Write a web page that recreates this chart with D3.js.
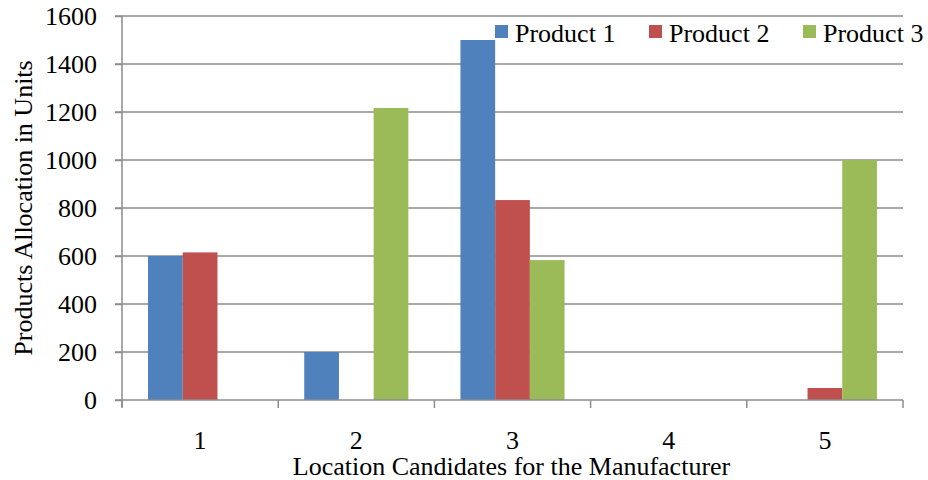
<!DOCTYPE html>
<html>
<head>
<meta charset="utf-8">
<script src="https://cdn.jsdelivr.net/npm/d3@7"></script>
<style>
  html, body { margin: 0; padding: 0; background: #fff; }
  svg text { font-family: "Liberation Serif", "Times New Roman", Times, serif !important; }
</style>
</head>
<body>
<svg id="chart" width="928" height="480"></svg>
<script>
// Units allocated to each candidate location, per product
const locations = ["1", "2", "3", "4", "5"];
const products = ["Product 1", "Product 2", "Product 3"];
const product1 = [600, 200, 1500, 0, 0];
const product2 = [615, 0, 833, 0, 50];
const product3 = [0, 1217, 583, 0, 1000];
const yTicks = [0, 200, 400, 600, 800, 1000, 1200, 1400, 1600];
const colors = ["#4F81BD", "#C0504D", "#9BBB59"];

const series = [product1, product2, product3];

const svg = d3.select("#chart");
const margin = { left: 122, right: 25, top: 16, bottom: 80 };
const W = 928, H = 480;
const plotW = W - margin.left - margin.right;
const plotH = H - margin.top - margin.bottom;
const fs = 26;

const g = svg.append("g").attr("transform", `translate(${margin.left},${margin.top})`);

const x = d3.scaleBand().domain(locations).range([0, plotW]).padding(0);
// gap width 150% of a bar on either side of each group
const barW = x.bandwidth() / (products.length + 1.5);
const xInner = d3.scaleBand().domain(products)
  .range([barW * 0.75, barW * 0.75 + barW * products.length]);

const y = d3.scaleLinear().domain([0, 1600]).range([plotH, 0]);

const gray = "#8c8c8c";

// horizontal gridlines with short outside ticks
g.append("g").selectAll("line").data(yTicks.filter(t => t > 0)).join("line")
  .attr("x1", -7).attr("x2", plotW)
  .attr("y1", d => y(d)).attr("y2", d => y(d))
  .attr("stroke", gray).attr("stroke-width", 1.5);

// bars
const rows = locations.map((loc, i) => ({ loc, vals: series.map((s, k) => ({ p: products[k], v: s[i], c: colors[k] })) }));
g.append("g").selectAll("g").data(rows).join("g")
  .attr("transform", d => `translate(${x(d.loc)},0)`)
  .selectAll("rect").data(d => d.vals.filter(v => v.v > 0)).join("rect")
  .attr("x", d => xInner(d.p))
  .attr("width", xInner.bandwidth())
  .attr("y", d => y(d.v))
  .attr("height", d => plotH - y(d.v))
  .attr("fill", d => d.c);

// y axis
const yAxis = g.append("g").call(d3.axisLeft(y).tickValues(yTicks).tickSize(7).tickPadding(18).tickFormat(d3.format("d")));
yAxis.attr("font-family", null);
yAxis.select(".domain").attr("stroke", gray).attr("stroke-width", 1.5).attr("d", `M0,${plotH + 7}V0`);
yAxis.selectAll(".tick line").attr("stroke", gray).attr("stroke-width", 1.5);
yAxis.selectAll(".tick text").attr("font-size", fs).attr("fill", "#000");

// x axis: baseline with ticks at category boundaries
const xa = g.append("g").attr("transform", `translate(0,${plotH})`);
xa.append("line").attr("x1", -7).attr("x2", plotW).attr("stroke", gray).attr("stroke-width", 1.5);
const bounds = locations.map(l => x(l)).concat([plotW]);
xa.selectAll("line.tk").data(bounds).join("line").attr("class", "tk")
  .attr("x1", d => d).attr("x2", d => d).attr("y1", 0).attr("y2", 8)
  .attr("stroke", gray).attr("stroke-width", 1.5);
xa.selectAll("text").data(locations).join("text")
  .attr("x", d => x(d) + x.bandwidth() / 2).attr("y", 49)
  .attr("text-anchor", "middle").attr("font-size", fs).text(d => d);

// axis titles
svg.append("text").attr("x", margin.left + plotW / 2 - 1).attr("y", 475)
  .attr("text-anchor", "middle").attr("font-size", fs)
  .text("Location Candidates for the Manufacturer");
svg.append("text").attr("transform", `translate(32,${margin.top + plotH / 2}) rotate(-90)`)
  .attr("text-anchor", "middle").attr("font-size", fs)
  .text("Products Allocation in Units");

// legend
const legendX = [495, 649, 803];
const lg = svg.append("g").selectAll("g").data(products).join("g")
  .attr("transform", (d, i) => `translate(${legendX[i]},25)`);
lg.append("rect").attr("width", 13).attr("height", 13).attr("fill", (d, i) => colors[i]);
lg.append("text").attr("x", 20).attr("y", 17).attr("font-size", fs).text(d => d);
</script>
</body>
</html>
